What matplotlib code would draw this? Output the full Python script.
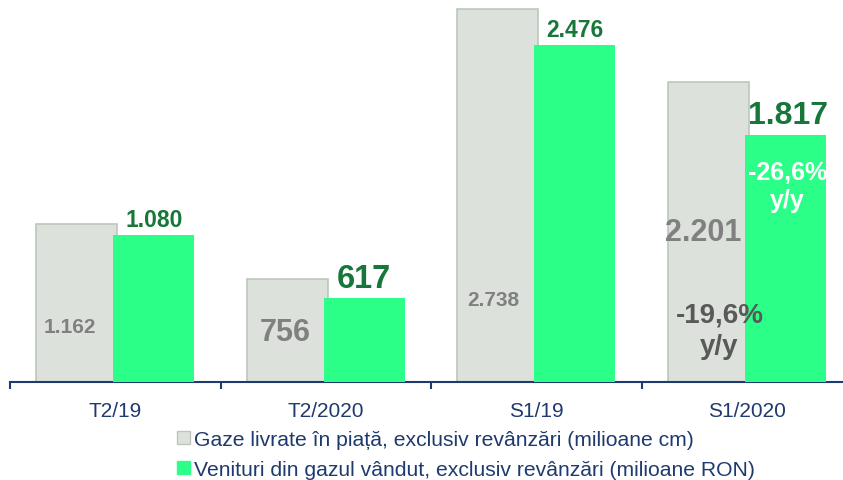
import matplotlib.pyplot as plt
from matplotlib.patches import Patch

plt.rcParams['font.family'] = ['Liberation Sans', 'DejaVu Sans']

categorii = ['T2/19', 'T2/2020', 'S1/19', 'S1/2020']
gaze_livrate = [1162, 756, 2738, 2201]       # milioane cm
venituri_gaz = [1080, 617, 2476, 1817]       # milioane RON
etichete_gaze = ['1.162', '756', '2.738', '2.201']
etichete_venit = ['1.080', '617', '2.476', '1.817']
variatie_gaze = '-19,6%\ny/y'
variatie_venit = '-26,6%\ny/y'
legenda = ['Gaze livrate în piață, exclusiv revânzări (milioane cm)',
           'Venituri din gazul vândut, exclusiv revânzări (milioane RON)']

GRI = '#DCE1DC'
GRI_MARGINE = '#BCC7BC'
VERDE = '#2BFF88'
VERDE_TEXT = '#17773A'
ALBASTRU = '#1F3A6E'

fig = plt.figure(figsize=(8.43, 4.81), dpi=100)
ax = fig.add_axes([10 / 843, 98 / 481, 842 / 843, 383 / 481])

w = 0.385
d = 0.183
x = range(len(categorii))
ax.bar([i - d for i in x], gaze_livrate, w, color=GRI, edgecolor=GRI_MARGINE, linewidth=1.2, zorder=2)
ax.bar([i + d for i in x], venituri_gaz, w, color=VERDE, linewidth=0, zorder=3)

ax.set_xlim(-0.5, 3.5)
ax.set_ylim(0, 2812)
for s in ['top', 'right', 'left']:
    ax.spines[s].set_visible(False)
ax.spines['bottom'].set_color(ALBASTRU)
ax.spines['bottom'].set_linewidth(1.5)
ax.set_yticks([])
ax.set_xticks(list(x))
ax.set_xticklabels(categorii, fontsize=15, color=ALBASTRU)
ax.tick_params(axis='x', which='major', length=0, pad=14)
ax.set_xticks([-0.5, 0.5, 1.5, 2.5, 3.5], minor=True)
ax.tick_params(axis='x', which='minor', length=5, width=1.5, color=ALBASTRU)

# etichete gri, plasate manual in bare (ca in original)
poz_gri = [(-0.215, 411, 15), (0.806, 367, 22), (1.795, 609, 15), (2.792, 1101, 22)]
for (px, py, fs), t in zip(poz_gri, etichete_gaze):
    ax.text(px, py, t, ha='center', va='center', fontsize=fs, fontweight='bold',
            color='#808080', zorder=2.5)

# etichete verzi deasupra barelor
dim_verde = [16.5, 23.5, 16.5, 23]
for i, (v, t, fs) in enumerate(zip(venituri_gaz, etichete_venit, dim_verde)):
    ax.annotate(t, (i + d, v), xytext=(2 if i == 3 else 0, 3), textcoords='offset points',
                ha='center', va='bottom', fontsize=fs, fontweight='bold', color=VERDE_TEXT)

ax.text(3 + d + 0.01, 1439, variatie_venit, ha='center', va='center', fontsize=18,
        fontweight='bold', color='white', zorder=4, linespacing=1.2, clip_on=True)
ax.text(2.87, 380, variatie_gaze, ha='center', va='center', fontsize=20,
        fontweight='bold', color='#595959', zorder=4, linespacing=1.25)

handles = [Patch(facecolor=GRI, edgecolor=GRI_MARGINE, linewidth=1),
           Patch(facecolor=VERDE, edgecolor=VERDE)]
fig.legend(handles, legenda, loc='upper left', bbox_to_anchor=(177 / 843, 1 - 431 / 481),
           frameon=False, fontsize=15.2, labelcolor=ALBASTRU, handlelength=0.62,
           handleheight=0.62, handletextpad=0.18, labelspacing=0.52, borderpad=0,
           borderaxespad=0)

fig.savefig('out.png', dpi=100)
